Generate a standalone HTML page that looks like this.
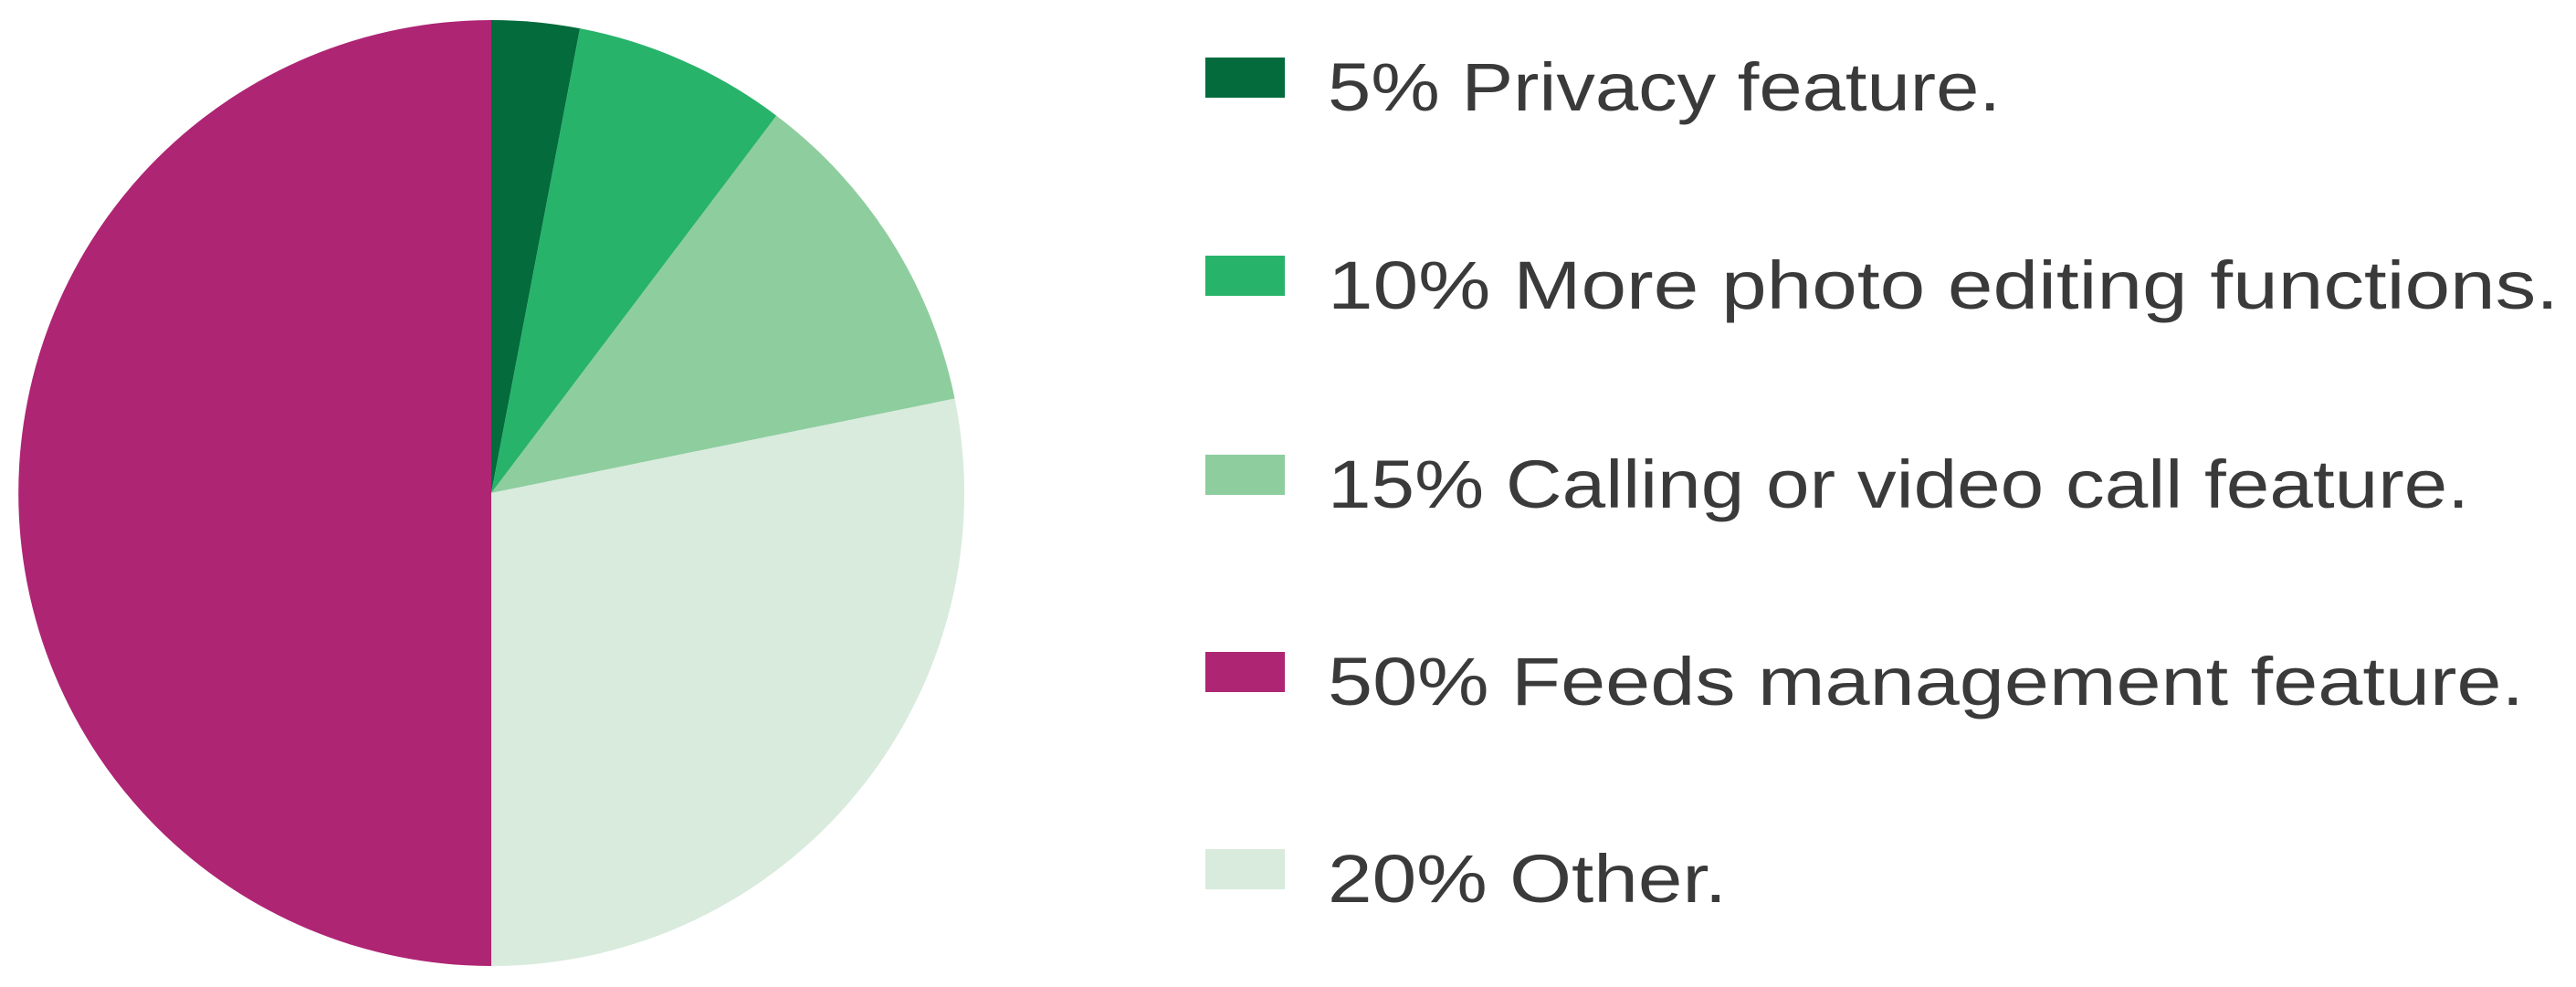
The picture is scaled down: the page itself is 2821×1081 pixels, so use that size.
<!DOCTYPE html>
<html><head><meta charset="utf-8"><style>
html,body{margin:0;padding:0;background:#fff;}
svg{display:block;}
</style></head><body>
<svg id="chart" width="2821" height="1081" viewBox="0 0 2821 1081" xmlns="http://www.w3.org/2000/svg">
<g id="slices"></g>
<g id="legend"></g>
</svg>
<script>
const categories = ["Privacy feature.", "More photo editing functions.", "Calling or video call feature.", "Feeds management feature.", "Other."];
const labelPercents = ["5%", "10%", "15%", "50%", "20%"];
const sliceValues = [3, 7.3, 11.5, 28.2, 50];
const sliceOrder = [0, 1, 2, 4, 3];
const colors = ["#036b3c", "#27b36a", "#8ecd9e", "#ae2574", "#d8ebdd"];

const NS = "http://www.w3.org/2000/svg";
const cx = 538, cy = 540, r = 518;
const total = sliceValues.reduce((a, b) => a + b, 0);
const slices = document.getElementById('slices');
let start = 0;
sliceOrder.forEach((ci, k) => {
  const v = sliceValues[k];
  const a0 = start / total * 2 * Math.PI, a1 = (start + v) / total * 2 * Math.PI;
  start += v;
  const x0 = cx + r * Math.sin(a0), y0 = cy - r * Math.cos(a0);
  const x1 = cx + r * Math.sin(a1), y1 = cy - r * Math.cos(a1);
  const large = (a1 - a0) > Math.PI ? 1 : 0;
  const p = document.createElementNS(NS, 'path');
  p.setAttribute('d', `M${cx},${cy} L${x0},${y0} A${r},${r} 0 ${large} 1 ${x1},${y1} Z`);
  p.setAttribute('fill', colors[ci]);
  
  
  slices.appendChild(p);
});
const legend = document.getElementById('legend');
const rowY = [85, 302, 520, 736, 952];
const widths = [737, 1348, 1250, 1310, 437];
categories.forEach((c, i) => {
  const g = document.createElementNS(NS, 'g');
  
  
  const rect = document.createElementNS(NS, 'rect');
  rect.setAttribute('x', 1320); rect.setAttribute('y', rowY[i] - 22);
  rect.setAttribute('width', 87); rect.setAttribute('height', 44);
  rect.setAttribute('fill', colors[i]);
  
  
  const t = document.createElementNS(NS, 'text');
  t.setAttribute('x', 1454); t.setAttribute('y', rowY[i] + 36);
  t.setAttribute('font-family', '"Liberation Sans", sans-serif');
  t.setAttribute('font-size', 74);
  t.setAttribute('fill', '#3a3a3a');
  t.setAttribute('textLength', widths[i]);
  t.setAttribute('lengthAdjust', 'spacingAndGlyphs');
  
  
  t.textContent = labelPercents[i] + ' ' + c;
  g.appendChild(rect); g.appendChild(t);
  legend.appendChild(g);
});
</script>
</body></html>
